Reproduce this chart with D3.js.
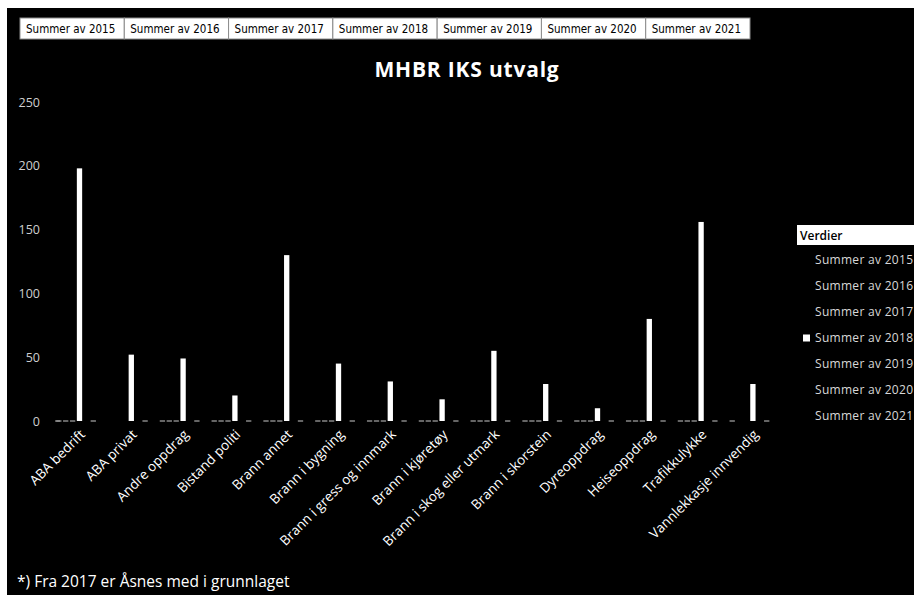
<!DOCTYPE html>
<html lang="no">
<head>
  <meta charset="UTF-8">
  <title>MHBR IKS utvalg</title>
  <script src="https://cdn.jsdelivr.net/npm/d3@7"></script>
  <style>
    html, body { margin: 0; padding: 0; background: #fff; }
    svg { display: block; }
    .ylab text { fill: #cfcfcf; font-family: "Open Sans", sans-serif; font-size: 12.5px; }
    .xlab { fill: #fff; font-family: "Open Sans", sans-serif; font-size: 13.5px; }
    .topbox { font-family: "DejaVu Sans Condensed", "Roboto", sans-serif; font-stretch: condensed; font-size: 11.5px; fill: #000; }
    .leg { fill: #d8d8d8; font-family: "Open Sans", sans-serif; font-size: 12px; letter-spacing: 0.3px; }
  </style>
</head>
<body>
<div id="chart"></div>
<script>
  const categories = ["ABA bedrift", "ABA privat", "Andre oppdrag", "Bistand politi", "Brann annet",
    "Brann i bygning", "Brann i gress og innmark", "Brann i kjøretøy", "Brann i skog eller utmark",
    "Brann i skorstein", "Dyreoppdrag", "Heiseoppdrag", "Trafikkulykke", "Vannlekkasje innvendig"];
  const seriesNames = ["Summer av 2015", "Summer av 2016", "Summer av 2017", "Summer av 2018",
    "Summer av 2019", "Summer av 2020", "Summer av 2021"];

  // only 2018 is readable, the rest are black on black (estimated from faint traces)
  const s2015 = [0, 2, 0, 0, 0, 0, 0, 0, 0, 0, 0, 0, 0, 0];
  const s2016 = [0, 3, 0, 0, 0, 0, 0, 0, 0, 0, 0, 0, 0, 1];
  const s2017 = [0, 4, 0, 0, 0, 0, 0, 0, 0, 0, 0, 0, 0, 2];
  const s2018 = [198, 52, 49, 20, 130, 45, 31, 17, 55, 29, 10, 80, 156, 29];
  const s2019 = [42, 4, 10, 3, 19, 9, 8, 4, 12, 8, 2, 18, 32, 5];
  const s2020 = [0, 0, 0, 0, 0, 0, 0, 0, 0, 0, 0, 0, 0, 0];
  const s2021 = [51, 6, 33, 5, 15, 7, 11, 20, 18, 19, 3, 65, 95, 4];
  const yTicks = [0, 50, 100, 150, 200, 250];

  const allSeries = [s2015, s2016, s2017, s2018, s2019, s2020, s2021];
  const colors = ["#000", "#000", "#000", "#fff", "#000", "#000", "#000"];

  const W = 914, H = 595;
  const svg = d3.select("#chart").append("svg").attr("width", W).attr("height", H);

  svg.append("rect").attr("x", 7).attr("y", 8).attr("width", W - 7).attr("height", H - 8).attr("fill", "#000");

  // row of field buttons at the top
  const boxX = d3.scaleBand().domain(seriesNames).range([20, 750]);
  const boxes = svg.append("g");
  boxes.selectAll("rect").data(seriesNames).enter().append("rect")
    .attr("x", d => boxX(d)).attr("y", 18)
    .attr("width", boxX.bandwidth()).attr("height", 21)
    .attr("fill", "#fff").attr("stroke", "#8c8c8c");
  boxes.selectAll("text").data(seriesNames).enter().append("text")
    .attr("class", "topbox")
    .attr("x", d => boxX(d) + 6).attr("y", 33)
    .text(d => d);

  // title
  svg.append("text")
    .attr("x", 467).attr("y", 77)
    .attr("text-anchor", "middle")
    .attr("fill", "#fff")
    .style("font-family", "'Open Sans', sans-serif")
    .style("font-weight", "bold")
    .style("font-size", "21px")
    .style("letter-spacing", "0.8px")
    .text("MHBR IKS utvalg");

  const x = d3.scaleBand().domain(categories).range([53.6, 778.8]);
  const xs = d3.scaleBand().domain(seriesNames).range([0, x.bandwidth()])
    .paddingInner(0.23).paddingOuter(0.37);
  const y = d3.scaleLinear().domain([0, 250]).range([421, 102]);

  svg.append("g").attr("class", "ylab")
    .attr("transform", "translate(40,0)")
    .call(d3.axisLeft(y).tickValues(yTicks).tickSize(0).tickPadding(0))
    .call(g => g.select(".domain").remove());

  svg.append("line").attr("x1", 55).attr("x2", 60)
    .attr("y1", y(0)).attr("y2", y(0)).attr("stroke", "#aaa");

  const rows = [];
  allSeries.forEach((vals, si) => {
    vals.forEach((v, ci) => rows.push({ cat: categories[ci], s: seriesNames[si], si: si, v: v }));
  });

  const bars = svg.append("g");
  bars.selectAll("rect").data(rows).enter().append("rect")
    .attr("x", d => x(d.cat) + xs(d.s))
    .attr("width", xs.bandwidth())
    .attr("y", d => d.v > 0 ? y(d.v) : y(0) - 0.6)
    .attr("height", d => d.v > 0 ? y(0) - y(d.v) : 1.2)
    .attr("fill", d => d.v > 0 ? colors[d.si] : "#a8a8a8");

  svg.append("g").selectAll("text").data(categories).enter().append("text")
    .attr("class", "xlab")
    .attr("text-anchor", "end")
    .attr("transform", d => `translate(${x(d) + x.bandwidth() / 2 + 3},432) rotate(-45)`)
    .attr("dy", "0.35em")
    .text(d => d);

  // legend on the right
  svg.append("rect").attr("x", 797).attr("y", 225).attr("width", 117).attr("height", 20).attr("fill", "#fff");
  svg.append("text").attr("x", 800).attr("y", 240)
    .style("font-family", "'Open Sans', sans-serif").style("font-size", "12px").style("font-weight", "600")
    .attr("fill", "#000").text("Verdier");

  const leg = svg.append("g").selectAll("g").data(seriesNames).enter().append("g")
    .attr("transform", (d, i) => `translate(803,${260 + i * 26})`);
  leg.append("rect").attr("x", 0).attr("y", -3.5).attr("width", 7).attr("height", 7)
    .attr("fill", (d, i) => colors[i]);
  leg.append("text").attr("class", "leg").attr("x", 12).attr("dy", "0.35em").text(d => d);

  // footnote
  svg.append("text").attr("x", 17).attr("y", 587)
    .attr("fill", "#fff")
    .style("font-family", "'Open Sans', sans-serif").style("font-size", "15.5px")
    .text("*) Fra 2017 er Åsnes med i grunnlaget");
</script>
</body>
</html>
